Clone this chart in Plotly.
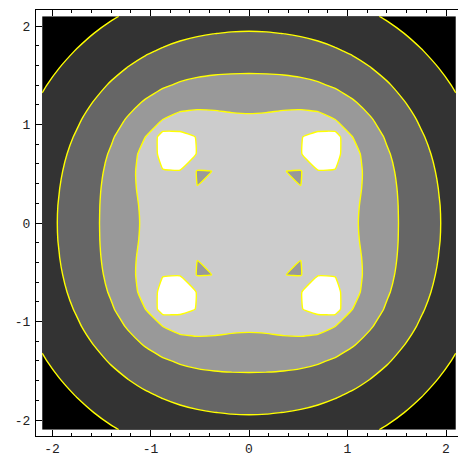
import plotly.graph_objects as go

# Sampling grid of the surface (one quadrant, coordinates 0 .. 2.1, step 0.175);
# the other three quadrants are mirror images.
quadrant_axis = [0.0, 0.175, 0.35, 0.525, 0.7, 0.875, 1.05, 1.225, 1.4,
                 1.575, 1.75, 1.925, 2.1]

# Surface values on the quadrant grid (lower triangle, row i = |x| index,
# entries j = 0..i = |y| index); symmetric about the diagonal.
quadrant_z = [
    [-0.40],
    [-0.40, -0.41],
    [-0.41, -0.44, -0.62],
    [-0.44, -0.55, -0.94, -1.00],
    [-0.50, -0.52, -0.45, -0.14, 1.00],
    [-0.60, -0.58, -0.42, -0.10, 0.216, 0.339],
    [-0.830, -0.800, -0.705, -0.633, -0.675, -0.948, -1.351],
    [-1.179, -1.173, -1.165, -1.183, -1.277, -1.479, -1.763, -2.080],
    [-1.577, -1.582, -1.602, -1.654, -1.758, -1.925, -2.146, -2.399, -2.665],
    [-1.968, -1.977, -2.009, -2.071, -2.172, -2.316, -2.498, -2.707, -2.931, -3.162],
    [-2.340, -2.351, -2.386, -2.449, -2.542, -2.668, -2.822, -2.999, -3.192, -3.393, -3.598],
    [-2.690, -2.701, -2.736, -2.795, -2.880, -2.990, -3.123, -3.276, -3.443, -3.620, -3.803, -3.988],
    [-3.018, -3.029, -3.061, -3.115, -3.191, -3.288, -3.405, -3.539, -3.686, -3.843, -4.006, -4.173, -4.341],
]

contour_start = -3.62
contour_step = 0.89
contour_count = 5

tick_values = [-2, -1, 0, 1, 2]
tick_labels = ["-2", "-1", "0", "1", "2"]

# ---- build the full symmetric grid by mirroring the quadrant ----
n = len(quadrant_axis)
full_axis = [-v for v in quadrant_axis[:0:-1]] + quadrant_axis
idx = list(range(n - 1, 0, -1)) + list(range(n))


def q(i, j):
    a, b = max(i, j), min(i, j)
    return quadrant_z[a][b]


z = [[q(ix, iy) for ix in idx] for iy in idx]

fig = go.Figure(
    go.Contour(
        x=full_axis,
        y=full_axis,
        z=z,
        contours=dict(
            start=contour_start,
            end=contour_start + contour_step * (contour_count - 1) + 0.01,
            size=contour_step,
            coloring="fill",
            showlabels=False,
        ),
        colorscale=[[0, "#000000"], [1, "#ffffff"]],
        showscale=False,
        line=dict(color="#ffff00", width=1.4, smoothing=0.3),
        hoverinfo="skip",
    )
)

px_per_unit = 98.5
axis_font = dict(family="Liberation Mono, Courier New, monospace", size=13, color="#222222")

common = dict(
    tickmode="array",
    tickvals=tick_values,
    ticktext=tick_labels,
    ticks="inside",
    ticklen=6,
    tickwidth=1,
    tickcolor="black",
    showline=True,
    linecolor="black",
    linewidth=1,
    showgrid=False,
    zeroline=False,
    automargin=False,
    tickfont=axis_font,
    minor=dict(tickmode="linear", tick0=0, dtick=0.2, ticks="inside",
               ticklen=3, tickwidth=1, tickcolor="black", showgrid=False),
)

fig.update_layout(
    width=458,
    height=459,
    margin=dict(l=36, r=0, t=10, b=23),
    paper_bgcolor="white",
    plot_bgcolor="white",
    showlegend=False,
    xaxis=dict(range=[(36 - 249) / px_per_unit, (458 - 249) / px_per_unit],
               mirror="ticks", **common),
    yaxis=dict(range=[(223 - 436) / px_per_unit, (223 - 10) / px_per_unit],
               mirror=False, ticklabelstandoff=2, **common),
)

fig.write_html(
    "out.html",
    config={"displayModeBar": False},
    post_script="document.body.style.margin='0';document.body.style.overflow='hidden';",
)
